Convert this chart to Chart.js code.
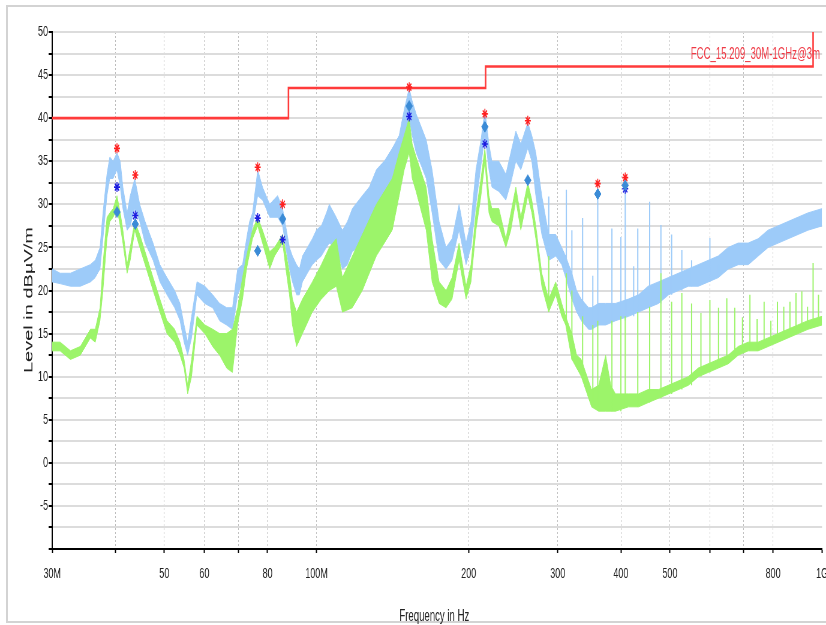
<!DOCTYPE html>
<html>
<head>
<meta charset="utf-8">
<script src="https://cdn.jsdelivr.net/npm/chart.js@4.4.1/dist/chart.umd.min.js"></script>
<style>
  html, body { margin: 0; padding: 0; background: #fff; overflow: hidden; }
  #frame { position: absolute; left: 6px; top: 5px; width: 900px; height: 618px; box-sizing: border-box; border: 2px solid #d3d3d3; }
  #scan { position: absolute; left: 0; top: 0; }
</style>
</head>
<body>
<div id="frame"></div>
<!-- drawn wide, then squeezed to 826px like the original export -->
<canvas id="scan" width="1377" height="625" style="width:826px;height:625px"></canvas>
<script>
// ---- data (MHz, dBuV/m) ----
const xTickValues = [30, 40, 50, 60, 70, 80, 100, 200, 300, 400, 500, 600, 700, 800, 1000];
const xTickText   = ['30M', '', '50', '60', '', '80', '100M', '200', '300', '400', '500', '', '', '800', '1G'];
const yTickValues = [-10, -7.5, -5, -2.5, 0, 2.5, 5, 7.5, 10, 12.5, 15, 17.5, 20, 22.5, 25, 27.5, 30, 32.5, 35, 37.5, 40, 42.5, 45, 47.5, 50];
const yTickText   = ['', '', '-5', '', '0', '', '5', '', '10', '', '15', '', '20', '', '25', '', '30', '', '35', '', '40', '', '45', '', '50'];

const limitName = 'FCC_15.209_30M-1GHz@3m';
const limitFreq = [30, 88, 216, 960, 1000];
const limitLevel = [40, 43.5, 46, 54, 54];

// peak scan (light blue) - upper / lower edge of the trace
const peakFreq = [30, 31.1, 32.6, 34.1, 35.7, 36.5, 37.3, 37.8, 38.5, 39.0, 39.6, 40.3, 40.9, 41.4, 42.2, 42.8, 43.7, 44.7, 45.8, 47.5,
  49.0, 50.6, 52.4, 53.7, 54.7, 55.6, 56.6, 58.0, 60.1, 62.3, 64.3, 66.4, 68.2, 69.8, 71.4, 72.7, 73.7, 74.7, 76.5, 78.2,
  80.8, 83.8, 85.7, 87.2, 88.4, 89.6, 91.3, 92.5, 93.8, 95.9, 98.1, 99.9, 102.2, 104.6, 106.0, 109.4, 112.5, 115.1, 117.7, 123.2,
  127.2, 131.3, 136.1, 141.2, 145.7, 149.1, 152.5, 154.6, 157.4, 161.1, 164.8, 169.3, 174.8, 180.4, 185.4, 191.4, 197.6, 202.1, 206.7, 211.5,
  215.3, 219.3, 222.3, 229.5, 236.9, 242.3, 247.9, 253.6, 261.8, 266.6, 271.5, 279.0, 287.9, 297.3, 305.5, 311, 320, 327, 334, 345.3,
  350, 361.5, 373.2, 390.4, 414.1, 433.6, 453, 474.7, 496.8, 519.9, 543.9, 569.2, 595.7, 623.3, 652.3, 682.6, 714.3, 747.4, 782.1, 818.4,
  856.3, 896.0, 937.7, 1000];
const peakMax = [22.5, 22, 22, 22.5, 23, 23.5, 25, 29, 33.5, 35.5, 35, 36, 35, 32, 29, 31, 33, 30, 28, 25.5,
  23, 21.5, 20, 18.5, 16, 14, 17, 21, 20.5, 19.5, 18.5, 18, 18, 22.5, 23, 26, 28, 29, 34, 32,
  30, 31, 29.5, 27, 25, 24, 23, 22.5, 24, 25, 26, 27, 27.5, 29, 30, 28.5, 27, 28, 29.5, 31,
  32, 34, 35, 36.5, 38, 41, 43.5, 42, 40.5, 39, 37.5, 34, 28, 25, 26, 30, 25.5, 28, 34, 37.5,
  41, 37, 35, 35, 33.5, 36, 38.5, 37, 39.5, 38, 36, 31, 26.5, 26.5, 25, 24, 22, 20, 19, 18,
  18, 18.5, 18.5, 18.5, 19, 19.5, 20.5, 21, 21.5, 22, 22.5, 23, 23.5, 24, 25, 25.5, 25.5, 26, 27, 27.5,
  28, 28.5, 29, 29.5];
const peakMin = [21, 20.8, 20.5, 20.5, 21, 21.5, 22.5, 26, 31, 33, 33, 34, 32, 29.5, 27, 27.5, 29.5, 28, 25.5, 23.5,
  21, 19.5, 18, 16.5, 14, 12.5, 14.5, 19.5, 18.5, 18, 16.5, 16, 15.5, 19.5, 21, 23, 25, 27.5, 31, 30.5,
  28.5, 28.5, 27.5, 24.5, 22.5, 21, 19.5, 19.5, 21, 22, 23, 23.5, 24, 25, 25.5, 25, 22.5, 23, 24.5, 25.5,
  26, 27, 29, 30.5, 33, 36, 40, 38, 36, 34.5, 33, 29, 23.5, 22.5, 23.5, 27, 23, 25, 30, 34.5,
  38, 34, 32, 31.5, 30.5, 32.5, 35, 34, 36.5, 35, 31, 26.5, 23.5, 24, 23, 21.5, 19, 17.5, 16.5, 15.5,
  15.5, 16, 16, 16.5, 17, 17.5, 18, 18.5, 19.5, 20, 20.5, 20.5, 21, 21.5, 22.5, 23, 23, 24, 25, 25.5,
  26, 26.5, 27, 27.5];

// average scan (green) - upper / lower edge of the trace
const avgFreq = [30, 31.1, 32.6, 34.1, 35.7, 36.5, 37.3, 37.8, 38.5, 39.0, 39.6, 40.3, 40.9, 41.4, 42.2, 42.8, 43.7, 44.7, 45.8, 47.5,
  49.0, 50.6, 52.4, 53.7, 54.7, 55.6, 56.6, 58.0, 60.1, 62.3, 64.3, 66.4, 68.2, 69.8, 71.4, 72.7, 74.7, 76.5, 78.2, 80.8,
  82.6, 85.7, 87.2, 88.4, 89.6, 91.3, 93.8, 98.1, 102.2, 106.0, 109.4, 112.5, 117.7, 123.2, 131.3, 141.2, 145.7, 149.1, 152.5, 154.6,
  157.4, 164.8, 169.3, 174.8, 180.4, 185.4, 191.4, 197.6, 202.1, 206.7, 211.5, 215.3, 219.3, 222.3, 229.5, 236.9, 242.3, 247.9, 253.6, 261.8,
  266.6, 271.5, 279.0, 287.9, 297.3, 305.5, 311, 320, 327, 334, 345.3, 350, 361.5, 373.2, 382, 390.4, 414.1, 433.6, 453, 474.7,
  496.8, 519.9, 543.9, 569.2, 595.7, 623.3, 652.3, 682.6, 714.3, 747.4, 782.1, 818.4, 856.3, 896.0, 937.7, 1000];
const avgMax = [14, 14, 13, 13.5, 15.5, 15.5, 18, 23, 28.5, 29, 29.5, 31, 29, 27, 23, 25, 28, 26.5, 24.5, 21.5,
  19, 16.5, 15.5, 14, 12, 9, 12, 17, 16, 15.5, 15, 15, 15.5, 18, 21.5, 24, 27, 28.5, 27, 24.5,
  25, 26.5, 24, 22, 19, 17.5, 19, 21, 23, 25, 26, 21.5, 24, 26.5, 30, 33, 36, 38, 40, 37,
  35.5, 32, 26, 21, 20, 21.5, 25.5, 20.5, 23, 29, 33, 36.5, 31, 29.5, 29.5, 26, 29, 32, 28.5, 32.5,
  30.5, 27.5, 22, 19, 21, 18.5, 17, 15, 12.5, 12, 9.5, 8.5, 9, 12.5, 9, 8, 8, 8, 8.5, 8.5,
  9, 9.5, 10, 11, 11.5, 12, 12.5, 13.5, 14, 14, 14.5, 15, 15.5, 16, 16.5, 17];
const avgMin = [13, 13, 12, 12.5, 14.5, 14, 16.5, 20, 26, 28, 28.5, 29.5, 27.5, 25.5, 22, 23.5, 27, 25, 23, 20,
  17.5, 15, 14, 12.5, 11, 8, 10, 16, 15, 13.5, 12.5, 11, 10.5, 16, 19, 22.5, 26, 27.5, 25.5, 22.5,
  24, 25.5, 22, 19.5, 16, 13.5, 15, 17.5, 19, 20, 20.5, 17.5, 18, 20, 24, 27, 31, 34, 36, 33,
  31.5, 27, 21, 18.5, 18, 19, 23.5, 19, 21, 27, 31, 35, 29, 28, 27.5, 25, 27, 30.5, 27, 31,
  29, 26, 20.5, 17.5, 19.5, 17, 16, 12, 11, 10, 7.5, 6.5, 6, 6, 6, 6, 6.5, 6.5, 7, 7.5,
  8, 8.5, 9, 10, 10.5, 11, 11.5, 12.5, 13, 13, 13.5, 14, 14.5, 15, 15.5, 16];

// narrow-band spikes above the traces
const peakSpikeFreq = [288, 312, 320, 336, 352, 360, 384, 400, 408, 424, 432, 456, 480, 504, 528, 552, 600, 624];
const peakSpikeTop  = [30.9, 31.7, 27.0, 28.4, 21.7, 31.1, 27.2, 26.2, 32.0, 22.8, 27.2, 30.3, 27.6, 26.5, 24.7, 23.5, 26.1, 23.0];
const peakSpikeBase = [24, 21.5, 19, 16.5, 15.5, 16, 16, 16.5, 16.5, 17, 17.5, 18, 18.5, 19.5, 20, 20.5, 21, 21.5];
const avgSpikeFreq = [288, 312, 320, 336, 352, 360, 384, 400, 408, 432, 456, 480, 504, 528, 552, 576, 600, 624, 648, 672,
  696, 720, 744, 768, 792, 816, 840, 864, 888, 912, 936, 960, 984];
const avgSpikeTop  = [24, 22, 20, 17, 16, 16.5, 16.5, 17, 17, 17.5, 18.1, 22, 18.7, 19.7, 18.5, 17.4, 18.9, 18, 19.1, 18,
  16.9, 19.5, 16.7, 18.7, 16.5, 18.7, 18.1, 18.7, 19.7, 19.9, 18.1, 23.2, 19.5];
const avgSpikeBase = [17.5, 16, 12, 10, 7, 6.5, 6, 6, 6.5, 6.5, 7, 7.5, 8, 8.5, 9, 10, 10.5, 11, 11.5, 12.5,
  13, 13, 13, 13.5, 14, 14, 14.5, 15, 15, 15.5, 15.5, 16, 16.5];

// final measurement markers
const markFreq = [40.3, 43.8, 76.5, 85.7, 152.5, 215.3, 261.8, 360, 408];
const markPeak = [36.5, 33.4, 34.3, 30.0, 43.6, 40.5, 39.7, 32.4, 33.1];
const markQP   = [29.1, 27.7, 24.6, 28.3, 41.4, 39.0, 32.8, 31.2, 32.2];
const markAvg  = [32.0, 28.7, 28.4, 25.9, 40.2, 37.0, null, null, 31.8];

const xTitle = 'Frequency in Hz';
const yTitle = 'Level in dBµV/m';

const FONT = "'Liberation Sans', Arial, sans-serif";
const BLUE = '#9dcbf9';
const GREEN = '#9cf46a';

function pts(xs, ys) {
  return xs.map((x, i) => ({ x, y: ys[i] }));
}

function spikePts(xs, base, top) {
  const out = [];
  xs.forEach((x, i) => {
    out.push({ x, y: base[i] }, { x, y: top[i] }, { x, y: null });
  });
  return out;
}

function band(label, xs, hi, lo, color, order) {
  return [
    { label: label + ' max', data: pts(xs, hi), borderColor: color, backgroundColor: color, borderWidth: 1, fill: '+1', order },
    { label: label + ' min', data: pts(xs, lo), borderColor: color, borderWidth: 1, fill: false, order },
  ];
}

function markers(label, ys, style, radius, color, width) {
  return {
    label, data: pts(markFreq, ys).filter(p => p.y !== null), showLine: false,
    pointStyle: style, pointRadius: radius, pointBorderWidth: width,
    pointBorderColor: color, pointBackgroundColor: color, borderColor: color, order: 0,
  };
}

// axis titles and limit name
const scanText = {
  id: 'scanText',
  afterDraw(chart) {
    const ctx = chart.ctx;
    ctx.save();
    ctx.font = '16px ' + FONT;
    ctx.fillStyle = '#ef3a45';
    ctx.textAlign = 'right';
    ctx.fillText(limitName, 1367, 59);
    ctx.fillStyle = '#222';
    ctx.textAlign = 'center';
    ctx.fillText(xTitle, 724, 621);
    ctx.translate(48, 300);
    ctx.rotate(-Math.PI / 2);
    ctx.font = '20px ' + FONT;
    ctx.textBaseline = 'middle';
    ctx.fillText(yTitle, 0, 0);
    ctx.restore();
  }
};

Chart.defaults.font.family = FONT;

const datasets = [
  markers('QP marker', markQP, 'rectRot', 5.5, '#3b8bd6', 1),
  markers('AV marker', markAvg, 'star', 5, '#1c1ce0', 1.6),
  markers('Peak marker', markPeak, 'star', 5, '#ff2020', 1.6),
  {
    label: limitName, data: pts(limitFreq, limitLevel), stepped: 'before',
    borderColor: '#ff3b3b', borderWidth: 2.6, fill: false, order: 1,
  },
  { label: 'avg spikes', data: spikePts(avgSpikeFreq, avgSpikeBase, avgSpikeTop), borderColor: GREEN, borderWidth: 2, order: 2 },
  ...band('avg', avgFreq, avgMax, avgMin, GREEN, 3),
  { label: 'peak spikes', data: spikePts(peakSpikeFreq, peakSpikeBase, peakSpikeTop), borderColor: BLUE, borderWidth: 2, order: 4 },
  ...band('peak', peakFreq, peakMax, peakMin, BLUE, 5),
];

new Chart(document.getElementById('scan'), {
  type: 'line',
  data: { datasets },
  options: {
    responsive: false,
    devicePixelRatio: 1,
    animation: false,
    layout: { padding: { top: 32, right: 4, bottom: 0, left: 0 } },
    elements: { point: { radius: 0 }, line: { tension: 0 } },
    plugins: { legend: { display: false }, tooltip: { enabled: false } },
    scales: {
      x: {
        type: 'logarithmic',
        min: 30,
        max: 1000,
        afterBuildTicks: s => { s.ticks = xTickValues.map(v => ({ value: v })); },
        afterFit: s => { s.height = 76; s.paddingLeft = 0; s.paddingRight = 0; },
        grid: {
          color: c => (c.tick && (c.tick.value === 30 || c.tick.value === 1000)) ? 'rgba(0,0,0,0)' : '#bdbdbd',
          lineWidth: 1,
          tickLength: 4,
          tickColor: '#000',
          tickWidth: 2,
        },
        border: { color: '#000', width: 2, dash: [2, 2] },
        ticks: {
          autoSkip: false, maxRotation: 0, minRotation: 0, padding: 12,
          color: '#222', font: { size: 15 },
          callback: (v, i) => xTickText[i],
        },
      },
      y: {
        min: -10,
        max: 50,
        afterBuildTicks: s => { s.ticks = yTickValues.map(v => ({ value: v })); },
        afterFit: s => { s.width = 87; },
        grid: { color: '#dcdcdc', lineWidth: 2, tickLength: 6, tickColor: '#000', tickWidth: 2 },
        border: { color: '#000', width: 2 },
        ticks: {
          padding: 1, color: '#222', font: { size: 15 },
          callback: (v, i) => yTickText[i],
        },
      },
    },
  },
  plugins: [scanText],
});
</script>
</body>
</html>
